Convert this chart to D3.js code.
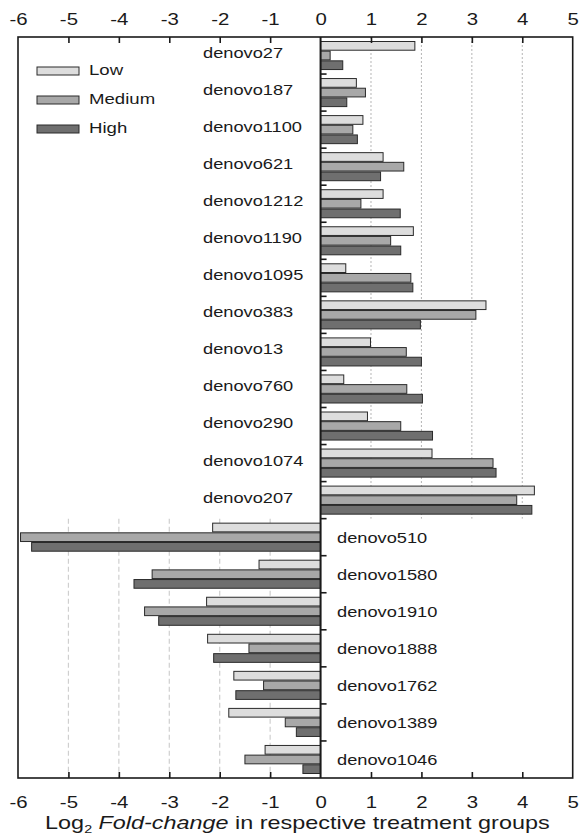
<!DOCTYPE html>
<html>
<head>
<meta charset="utf-8">
<script src="https://cdn.jsdelivr.net/npm/d3@7"></script>
<style>
  html, body { margin: 0; padding: 0; background: #fff; }
  svg { display: block; }
  text { font-family: "Liberation Sans", Arial, Helvetica, sans-serif; fill: #1a1a1a; }
</style>
</head>
<body>
<svg id="chart" width="580" height="835"></svg>
<script>
// Genes (OTUs) ordered top to bottom: up-regulated first, then down-regulated
const categories = [
  "denovo27", "denovo187", "denovo1100", "denovo621", "denovo1212",
  "denovo1190", "denovo1095", "denovo383", "denovo13", "denovo760",
  "denovo290", "denovo1074", "denovo207",
  "denovo510", "denovo1580", "denovo1910", "denovo1888", "denovo1762",
  "denovo1389", "denovo1046"
];

const seriesNames = ["Low", "Medium", "High"];

// log2 fold-change per treatment group
const lowValues = [
  1.87, 0.71, 0.84, 1.24, 1.24, 1.84, 0.50, 3.28, 0.99, 0.46, 0.93, 2.21, 4.24,
  -2.14, -1.22, -2.26, -2.24, -1.72, -1.82, -1.10
];
const mediumValues = [
  0.19, 0.89, 0.64, 1.65, 0.80, 1.39, 1.79, 3.08, 1.70, 1.71, 1.59, 3.42, 3.89,
  -5.95, -3.34, -3.49, -1.42, -1.13, -0.70, -1.50
];
const highValues = [
  0.44, 0.52, 0.73, 1.19, 1.58, 1.59, 1.83, 1.98, 2.00, 2.02, 2.22, 3.48, 4.19,
  -5.73, -3.70, -3.21, -2.12, -1.68, -0.48, -0.35
];

const xTicks = [-6, -5, -4, -3, -2, -1, 0, 1, 2, 3, 4, 5];

const seriesColors = { Low: "#dddddd", Medium: "#a8a8a8", High: "#6f6f6f" };
const stretch = 1.2; // horizontal widening of all lettering

const valuesBySeries = { Low: lowValues, Medium: mediumValues, High: highValues };
const rows = categories.map((c, i) => ({
  name: c,
  values: seriesNames.map(s => ({ series: s, value: valuesBySeries[s][i] }))
}));
const upRows = rows.filter(r => d3.max(r.values, v => v.value) > 0);
const downRows = rows.filter(r => d3.max(r.values, v => v.value) <= 0);

const svg = d3.select("#chart");
const plotLeft = 18, plotRight = 572.7, plotTop = 37, plotBottom = 778;

const x = d3.scaleLinear().domain([-6, 5]).range([plotLeft, plotRight]);
const y = d3.scaleBand().domain(categories).range([plotTop, plotBottom]);
const ySub = d3.scaleBand().domain(seriesNames)
  .range([4.5, y.bandwidth() - 4.5]).paddingInner(0.1);

// dashed vertical guides: positive side behind up-regulated rows, negative side behind down-regulated rows
const upTop = y(upRows[0].name), upBottom = y(upRows[upRows.length - 1].name) + y.bandwidth();
const downTop = y(downRows[0].name), downBottom = y(downRows[downRows.length - 1].name) + y.bandwidth();
const grid = svg.append("g");
grid.selectAll("line.up").data(xTicks.filter(t => t > 0 && t < 5)).join("line")
  .attr("class", "up")
  .attr("x1", d => x(d)).attr("x2", d => x(d))
  .attr("y1", upTop).attr("y2", upBottom)
  .attr("stroke", "#b5b5b5").attr("stroke-width", 1).attr("stroke-dasharray", "2,2");
grid.selectAll("line.down").data(xTicks.filter(t => t < 0 && t > -6)).join("line")
  .attr("class", "down")
  .attr("x1", d => x(d)).attr("x2", d => x(d))
  .attr("y1", downTop).attr("y2", downBottom)
  .attr("stroke", "#cfcfcf").attr("stroke-width", 1.2).attr("stroke-dasharray", "5,3");

// bars
const rowG = svg.append("g").selectAll("g").data(rows).join("g")
  .attr("transform", d => `translate(0,${y(d.name)})`);
rowG.selectAll("rect").data(d => d.values).join("rect")
  .attr("x", d => x(Math.min(0, d.value)))
  .attr("y", d => ySub(d.series))
  .attr("width", d => Math.abs(x(d.value) - x(0)))
  .attr("height", ySub.bandwidth())
  .attr("fill", d => seriesColors[d.series])
  .attr("stroke", "#2a2a2a").attr("stroke-width", 1);

// frame
svg.append("rect")
  .attr("x", plotLeft).attr("y", plotTop)
  .attr("width", plotRight - plotLeft).attr("height", plotBottom - plotTop)
  .attr("fill", "none").attr("stroke", "#1a1a1a").attr("stroke-width", 1.6);

// top and bottom axes with inward ticks
const topAxis = svg.append("g").attr("transform", `translate(0,${plotTop})`)
  .call(d3.axisTop(x).tickValues(xTicks).tickFormat(d3.format("d")).tickSize(-6).tickPadding(12));
const bottomAxis = svg.append("g").attr("transform", `translate(0,${plotBottom})`)
  .call(d3.axisBottom(x).tickValues(xTicks).tickFormat(d3.format("d")).tickSize(-6).tickPadding(18));
[topAxis, bottomAxis].forEach(a => {
  a.select(".domain").remove();
  a.selectAll(".tick line").attr("stroke", "#1a1a1a").attr("stroke-width", 1.6);
  a.selectAll(".tick text")
    .attr("font-size", 17)
    .attr("fill", "#1a1a1a")
    .attr("transform", `scale(${stretch},1)`)
    .text(d => d < 0 ? "-" + Math.abs(d) : String(d));
  a.selectAll(".tick").filter(d => d === 0 || d === -6 || d === 5).select("line").remove();
});

// zero axis with row separators
const zeroG = svg.append("g");
zeroG.append("line")
  .attr("x1", x(0)).attr("x2", x(0)).attr("y1", plotTop).attr("y2", plotBottom)
  .attr("stroke", "#1a1a1a").attr("stroke-width", 2);
zeroG.selectAll("line.sep").data(categories.slice(1)).join("line")
  .attr("class", "sep")
  .attr("x1", x(0)).attr("x2", x(0) + 6)
  .attr("y1", d => y(d)).attr("y2", d => y(d))
  .attr("stroke", "#1a1a1a").attr("stroke-width", 1.6);

// category labels: left of zero for up-regulated, right of zero for down-regulated
const labelG = svg.append("g");
labelG.selectAll("g").data(rows).join("g")
  .attr("transform", d => {
    const up = upRows.includes(d);
    const cy = y(d.name) + y.bandwidth() / 2 + (up ? -3 : 0);
    return `translate(${up ? 203 : 337},${cy})`;
  })
  .append("text")
  .attr("font-size", 15.2)
  .attr("dy", "0.36em")
  .attr("transform", `scale(${stretch},1)`)
  .text(d => d.name);

// legend
const legend = svg.append("g").attr("transform", "translate(37,75)");
const item = legend.selectAll("g").data(seriesNames).join("g")
  .attr("transform", (d, i) => `translate(0,${i * 29})`);
item.append("rect")
  .attr("x", 0).attr("y", -8).attr("width", 42).attr("height", 8)
  .attr("fill", d => seriesColors[d])
  .attr("stroke", "#2a2a2a").attr("stroke-width", 1);
item.append("g").attr("transform", "translate(52,0)")
  .append("text")
  .attr("font-size", 15.5)
  .attr("transform", `scale(${stretch},1)`)
  .text(d => d);

// x-axis title
const title = svg.append("g").attr("transform", `translate(${(plotLeft + plotRight) / 2 + 2},829)`)
  .append("text")
  .attr("text-anchor", "middle")
  .attr("font-size", 18)
  .attr("transform", "scale(1.3,1)");
title.append("tspan").text("Log");
title.append("tspan").attr("font-size", 11).attr("dy", 4).text("2");
title.append("tspan").attr("dy", -4).text(" ");
title.append("tspan").attr("font-style", "italic").text("Fold-change");
title.append("tspan").text(" in respective treatment groups");
</script>
</body>
</html>
